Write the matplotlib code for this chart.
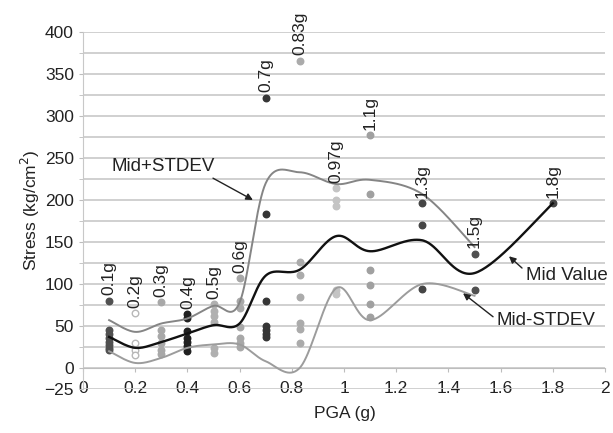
import numpy as np
import matplotlib
matplotlib.use("Agg")
import matplotlib.pyplot as plt
from matplotlib.ticker import MultipleLocator, FixedLocator, FuncFormatter

plt.rcParams['font.family'] = ['Liberation Sans', 'DejaVu Sans']

# PGA levels and their labels
pga = [0.1, 0.2, 0.3, 0.4, 0.5, 0.6, 0.7, 0.83, 0.97, 1.1, 1.3, 1.5, 1.8]
pga_labels = ['0.1g', '0.2g', '0.3g', '0.4g', '0.5g', '0.6g', '0.7g',
              '0.83g', '0.97g', '1.1g', '1.3g', '1.5g', '1.8g']

# measured stresses (kg/cm2) at each PGA level
stress_01 = [80, 45, 40, 36, 31, 27, 24, 21]
stress_02 = [65, 30, 22, 15]
stress_03 = [78, 45, 38, 30, 22, 17]
stress_04 = [64, 60, 44, 36, 31, 26, 20]
stress_05 = [76, 68, 62, 55, 24, 18]
stress_06 = [107, 80, 72, 49, 36, 30, 25]
stress_07 = [322, 183, 80, 50, 45, 40, 37]
stress_083 = [366, 126, 111, 85, 53, 47, 30]
stress_097 = [214, 200, 193, 93, 88]
stress_11 = [277, 207, 117, 99, 76, 61]
stress_13 = [196, 170, 94]
stress_15 = [136, 93]
stress_18 = [196]

# summary curves
mid_value = [37, 24, 31, 41, 51, 53, 110, 117, 157, 139, 152, 113, 196]
mid_plus_stdev = [57, 43, 53, 59, 74, 78, 220, 233, 219, 224, 207, 144]
mid_minus_stdev = [20, 6, 12, 24, 28, 28, 8, 0, 95, 57, 100, 86]

groups = [stress_01, stress_02, stress_03, stress_04, stress_05, stress_06,
          stress_07, stress_083, stress_097, stress_11, stress_13, stress_15,
          stress_18]
dot_colors = ['#505050', 'white', '#a8a8a8', '#202020', '#b0b0b0', '#a8a8a8',
              '#353535', '#ababab', '#c4c4c4', '#a0a0a0', '#454545', '#505050',
              '#454545']
edge_colors = ['#505050', '#b8b8b8', '#a8a8a8', '#202020', '#b0b0b0', '#a8a8a8',
               '#353535', '#ababab', '#c4c4c4', '#a0a0a0', '#454545', '#505050',
               '#454545']


def smooth(xs, ys, n=40):
    """Piecewise cubic Bezier through the points (spreadsheet-style smoothing)."""
    p = np.column_stack([xs, ys]).astype(float)
    pts = np.vstack([p[0], p, p[-1]])
    out = []
    t = np.linspace(0, 1, n)[:, None]
    for i in range(1, len(pts) - 2):
        p0, p1 = pts[i], pts[i + 1]
        c1 = p0 + (pts[i + 1] - pts[i - 1]) / 6.0
        c2 = p1 - (pts[i + 2] - pts[i]) / 6.0
        seg = ((1 - t) ** 3) * p0 + 3 * ((1 - t) ** 2) * t * c1 \
            + 3 * (1 - t) * t ** 2 * c2 + t ** 3 * p1
        out.append(seg if i == 1 else seg[1:])
    s = np.vstack(out)
    return s[:, 0], s[:, 1]


fig = plt.figure(figsize=(6.13, 4.33), dpi=100)
ax = fig.add_axes([0.1354, 0.1016, 0.8516, 0.8245])
ax.set_xlim(0, 2)
ax.set_ylim(-25, 400)

# grid every 25
ax.yaxis.set_minor_locator(MultipleLocator(25))
ax.grid(which='both', axis='y', color='#c8c8c8', lw=1.2, zorder=0)
ax.set_axisbelow(True)

for sp in ['top', 'right']:
    ax.spines[sp].set_visible(False)
ax.spines['left'].set_color('#c8c8c8')
ax.spines['bottom'].set_color('#bdbdbd')
ax.spines['bottom'].set_position(('data', 0))

ax.yaxis.set_major_locator(FixedLocator([-25, 0, 50, 100, 150, 200, 250, 300, 350, 400]))
ax.xaxis.set_major_locator(MultipleLocator(0.2))
ax.xaxis.set_major_formatter(FuncFormatter(lambda v, p: f'{v:g}'))
ax.tick_params(axis='both', labelsize=12.5, colors='#bdbdbd', labelcolor='#222222',
               length=3, width=0.8)
ax.tick_params(axis='y', which='minor', length=3, color='#bdbdbd')
ax.tick_params(axis='x', pad=6)

# scatter groups
for x, vals, fc, ec in zip(pga, groups, dot_colors, edge_colors):
    ax.scatter([x] * len(vals), vals, s=22, facecolor=fc, edgecolor=ec,
               linewidths=1.0, zorder=3, clip_on=False)

# summary curves
sx, sy = smooth(pga[:len(mid_plus_stdev)], mid_plus_stdev)
ax.plot(sx, sy, color='#858585', lw=1.4, zorder=4)
sx, sy = smooth(pga[:len(mid_minus_stdev)], mid_minus_stdev)
ax.plot(sx, sy, color='#9c9c9c', lw=1.4, zorder=4)
sx, sy = smooth(pga, mid_value)
ax.plot(sx, sy, color='#111111', lw=1.7, zorder=5)

# group labels above the top point of each group
for x, vals, lab in zip(pga, groups, pga_labels):
    ax.annotate(lab, (x, max(vals)), xytext=(0, 4), textcoords='offset points',
                rotation=90, ha='center', va='bottom', fontsize=12.5,
                color='#222222', zorder=6, annotation_clip=False)

arrow = dict(arrowstyle='-|>', color='#222222', lw=1.0, mutation_scale=10,
             shrinkA=0, shrinkB=0)
ax.annotate('', xy=(0.651, 200), xytext=(0.498, 226), arrowprops=arrow, zorder=6)
ax.text(0.11, 240, 'Mid+STDEV', fontsize=13.5, color='#222222', va='center', ha='left')
ax.annotate('', xy=(1.632, 133), xytext=(1.682, 119), arrowprops=arrow, zorder=6)
ax.text(1.697, 110, 'Mid Value', fontsize=13.5, color='#222222', va='center', ha='left',
        clip_on=False)
ax.annotate('', xy=(1.456, 89), xytext=(1.571, 61), arrowprops=arrow, zorder=6)
ax.text(1.586, 56, 'Mid-STDEV', fontsize=13.5, color='#222222', va='center', ha='left')

ax.set_ylabel('Stress (kg/cm$^2$)', fontsize=12.5, color='#222222', labelpad=2)
fig.text(0.562, 0.045, 'PGA (g)', fontsize=12.5, color='#222222', ha='center', va='center')

fig.savefig('out.png', dpi=100)
